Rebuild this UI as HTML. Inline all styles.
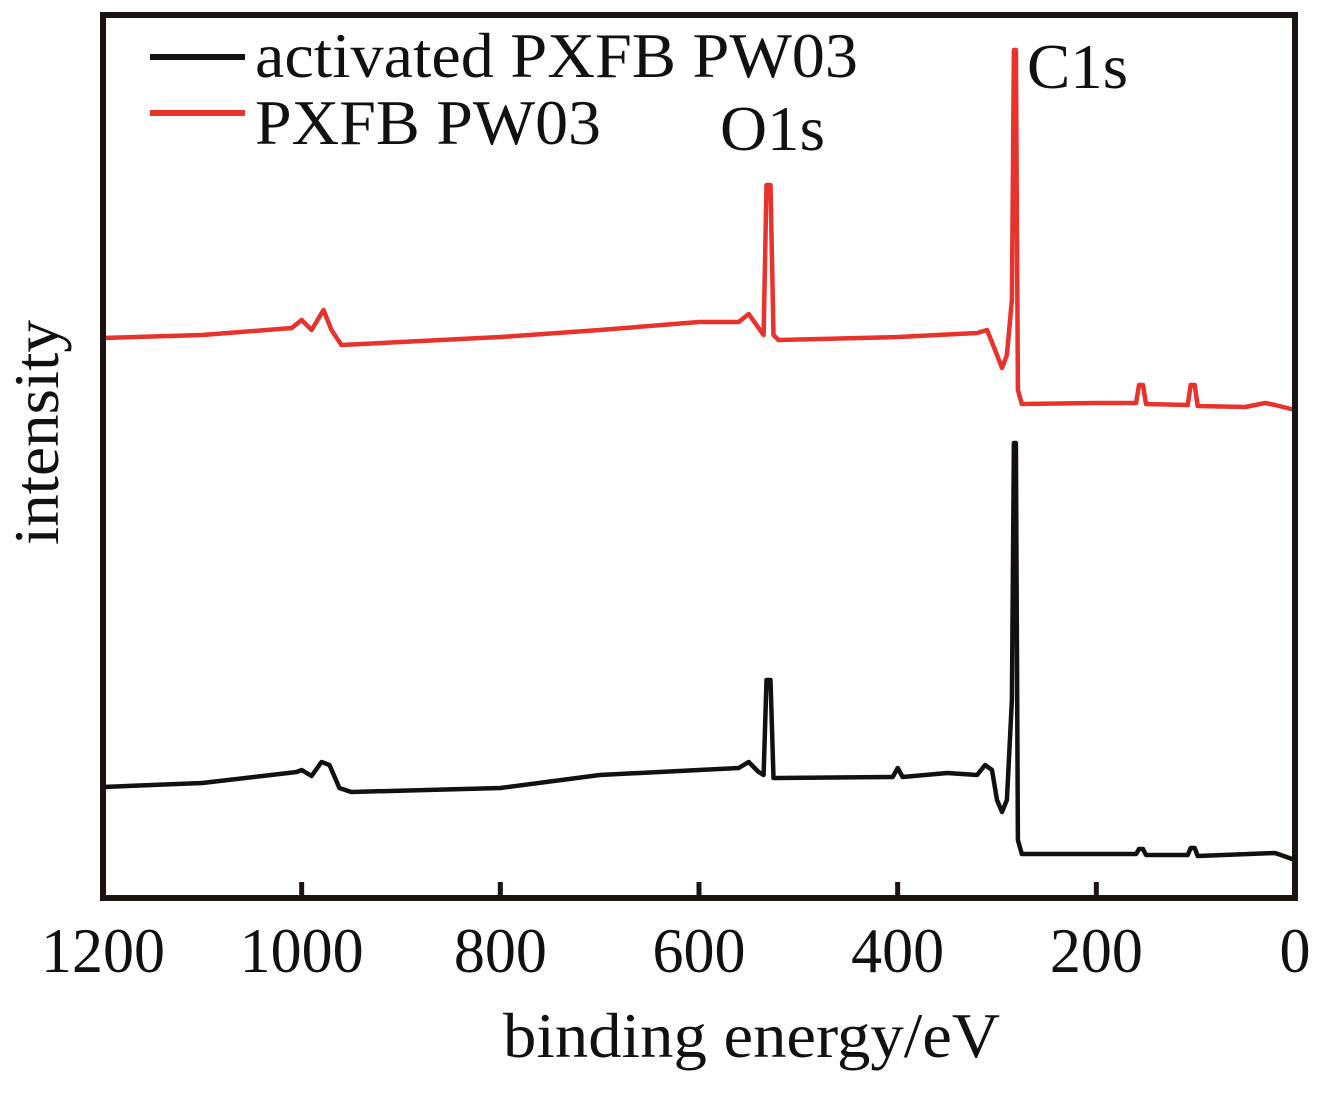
<!DOCTYPE html>
<html><head><meta charset="utf-8"><style>
body{margin:0;background:#fff}
svg text{font-family:"Liberation Serif",serif;fill:#111}
</style></head><body>
<svg width="1319" height="1092" viewBox="0 0 1319 1092" xmlns="http://www.w3.org/2000/svg">
<g id="plot"></g>
<rect x="103" y="15" width="1192" height="883" fill="none" stroke="#1a1512" stroke-width="6"/>
<g id="ticks"></g>
<text x="503" y="1057" font-size="64" textLength="497" lengthAdjust="spacingAndGlyphs">binding energy/eV</text>
<text transform="translate(58,545) rotate(-90)" font-size="64" textLength="225" lengthAdjust="spacingAndGlyphs">intensity</text>
<line x1="150" y1="57" x2="245" y2="57" stroke="#111" stroke-width="6"/>
<text x="255" y="77" font-size="64" textLength="603" lengthAdjust="spacingAndGlyphs">activated PXFB PW03</text>
<line x1="150" y1="113" x2="245" y2="113" stroke="#e8322c" stroke-width="6"/>
<text x="255" y="144" font-size="64" textLength="346" lengthAdjust="spacingAndGlyphs">PXFB PW03</text>
<text x="720" y="150" font-size="64" textLength="105" lengthAdjust="spacingAndGlyphs">O1s</text>
<text x="1027" y="88" font-size="64" textLength="101" lengthAdjust="spacingAndGlyphs">C1s</text>
</svg>
<script>
const redEnergy=[1200,1100,1010,1000,990,978,970,960,900,800,700,600,560,550,540,535,532,528,525,520,400,320,310,300,295,290,285,283,281,279,275,200,160,157,153,150,108,105,101,98,50,30,20,0];
const redIntensity=[559,562,569,577,567,587,567,552,555,560,567,575,575,583,569,562,712,712,562,557,560,564,567,542,529,542,597,847,847,507,493,494,494,512,512,493,492,512,512,491,490,494,492,487];
const blackEnergy=[1200,1100,1005,1000,990,980,972,962,950,800,700,600,560,550,540,535,532,528,525,520,405,400,395,350,320,312,305,300,295,290,285,283,281,279,275,160,157,153,150,108,105,101,98,20,0];
const blackIntensity=[110,114,125,127,121,135,132,109,105,109,122,127,129,135,125,122,217,217,119,119,120,129,120,124,122,132,127,97,85,97,197,454,454,57,43,43,48,48,42,42,49,49,41,44,37];
const xTicks=[1200,1000,800,600,400,200,0];
const x=e=>103+(1200-e)*(1192/1200);
const y=v=>897-v;
const NS="http://www.w3.org/2000/svg";
const plot=document.getElementById('plot');
function series(E,I,color,name){
  const p=document.createElementNS(NS,'path');
  p.setAttribute('d',E.map((e,i)=>(i?'L':'M')+x(e).toFixed(1)+' '+y(I[i]).toFixed(1)).join(' '));
  p.setAttribute('fill','none');p.setAttribute('stroke',color);p.setAttribute('stroke-width','4.5');p.setAttribute('stroke-linejoin','round');
  
  
  plot.appendChild(p);
}
series(redEnergy,redIntensity,'#e8322c','series-pxfb-pw03');
series(blackEnergy,blackIntensity,'#141010','series-activated-pxfb-pw03');
const tg=document.getElementById('ticks');
xTicks.forEach(t=>{
  const l=document.createElementNS(NS,'line');
  l.setAttribute('x1',x(t));l.setAttribute('x2',x(t));l.setAttribute('y1',882);l.setAttribute('y2',897);
  l.setAttribute('stroke','#1a1512');l.setAttribute('stroke-width','5');
  
  
  tg.appendChild(l);
  const tx=document.createElementNS(NS,'text');
  tx.setAttribute('x',x(t));tx.setAttribute('y',972);tx.setAttribute('font-size','64');tx.setAttribute('text-anchor','middle');
  tx.setAttribute('textLength',String(t).length*31);tx.setAttribute('lengthAdjust','spacingAndGlyphs');
  tx.textContent=t;
  
  
  tg.appendChild(tx);
});
</script>
</body></html>
